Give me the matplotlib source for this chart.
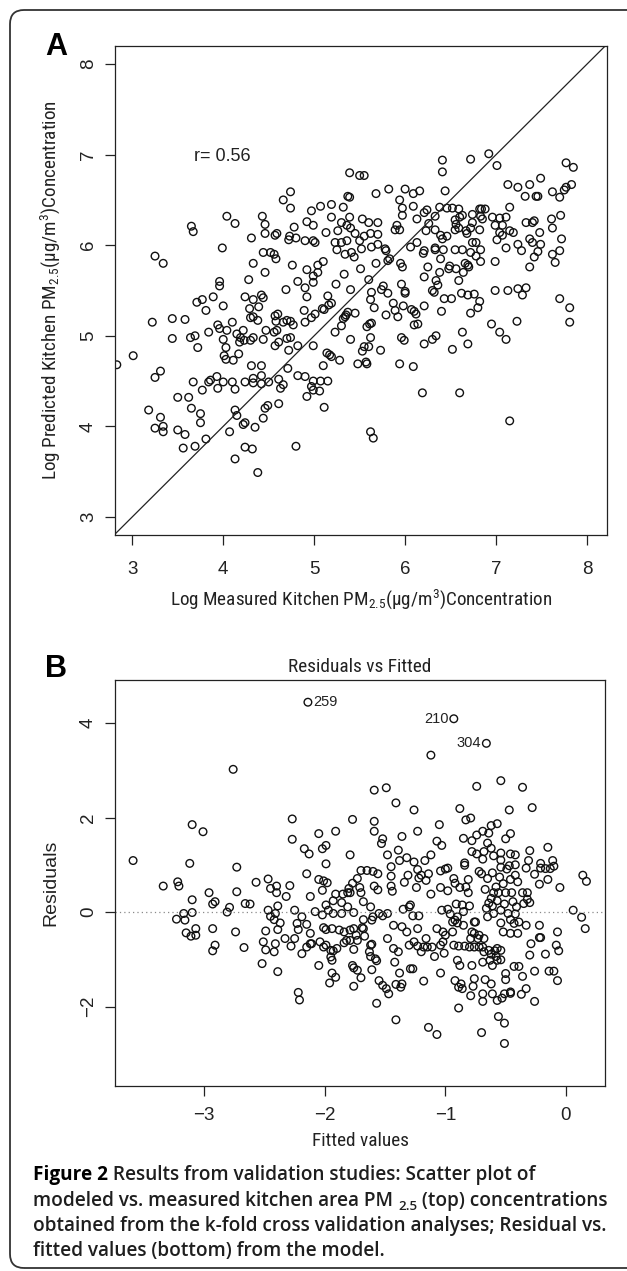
import matplotlib
matplotlib.use('Agg')
import matplotlib.pyplot as plt
from matplotlib import font_manager
from matplotlib.patches import FancyBboxPatch

# ---------------- data: panel A (measured vs predicted, log scale) ----------------
a_measured = [
 3.22,3.25,3.34,3.44,3.44,3.58,3.64,3.69,3.72,3.65,3.67,3.71,3.77,3.81,3.84,3.89,3.96,3.96,3.99,4.00,
 3.94,3.96,4.04,4.13,4.00,4.03,4.04,4.10,4.15,4.19,4.18,4.22,4.23,4.28,4.24,4.29,4.33,4.31,4.33,4.30,
 4.33,4.33,4.30,4.39,4.38,4.42,4.44,4.43,4.46,4.46,4.46,4.44,4.44,4.47,4.52,4.56,4.57,4.59,4.58,4.57,
 4.60,4.58,4.57,4.61,4.56,4.59,4.66,4.69,4.72,4.73,4.74,4.74,4.76,4.78,4.70,4.74,4.72,4.66,4.70,4.74,
 4.77,4.82,4.82,4.80,
 2.83,3.01,3.25,3.31,3.18,3.31,3.25,3.34,3.34,3.50,3.50,3.58,3.56,3.62,3.65,3.69,3.67,3.77,3.75,3.75,
 3.81,3.84,3.86,3.93,3.94,4.00,4.01,4.03,4.10,4.13,4.13,4.15,4.11,4.17,4.07,4.13,4.22,4.24,4.24,4.32,
 4.24,4.31,4.33,4.33,4.35,4.38,4.42,4.42,4.42,4.44,4.46,4.49,4.50,4.61,4.61,4.63,4.66,4.71,4.80,4.82,
 5.39,5.50,5.55,5.37,5.39,5.68,5.82,5.94,6.00,6.09,6.16,5.97,5.97,6.09,6.41,6.41,6.44,6.72,6.92,7.01,
 7.13,7.24,7.37,7.49,7.44,7.46,7.32,7.62,7.70,7.75,7.77,7.77,7.85,7.83,7.15,6.82,6.88,
 4.92,4.97,5.07,5.19,5.32,4.99,5.19,5.30,5.39,5.36,5.53,5.60,5.70,5.13,5.26,5.40,4.90,4.99,5.01,
 5.23,5.30,5.36,5.45,5.50,5.55,5.62,5.70,5.25,5.34,5.41,5.44,5.52,5.63,5.70,5.78,5.79,5.91,5.89,5.94,
 6.13,6.21,6.24,6.33,6.38,6.23,6.26,6.33,6.46,6.52,6.59,6.55,6.60,6.63,6.56,6.74,6.84,6.83,6.85,6.96,
 7.04,7.11,6.74,6.72,6.82,6.99,7.07,6.39,6.41,6.46,6.55,6.59,6.67,6.68,6.33,6.42,6.55,6.63,6.72,6.83,
 6.74,6.78,7.15,7.19,7.01,7.04,7.07,7.11,7.24,7.28,7.33,7.40,7.42,7.37,7.40,7.48,7.49,7.46,7.42,7.37,
 7.61,7.62,7.71,7.72,7.70,7.62,7.65,6.99,6.83,6.78,6.66,6.69,6.70,6.64,6.56,6.39,6.49,6.48,6.38,6.34,
 6.36,6.30,6.32,6.43,6.51,6.59,6.62,6.69,6.76,6.82,6.80,6.72,6.40,6.99,7.13,7.24,7.29,7.33,6.95,7.04,
 7.11,7.23,6.63,6.69,6.52,7.70,7.81,7.81,6.21,6.25,6.21,6.06,6.13,6.20,6.21,6.33,5.95,5.97,5.96,6.00,
 6.00,5.98,6.07,6.10,6.12,6.10,6.14,5.96,5.99,6.21,6.30,6.34,5.94,6.09,5.68,5.81,5.83,5.76,5.74,5.81,
 5.87,5.89,5.92,5.79,5.51,5.60,5.63,5.62,5.66,5.61,5.58,5.63,5.62,5.55,5.60,5.53,5.73,5.58,5.48,5.57,
 5.33,5.24,5.40,5.45,5.37,5.32,5.34,5.30,5.23,5.40,5.35,5.15,5.19,5.09,5.11,5.16,5.01,4.97,4.90,4.89,
 4.92,4.99,5.04,5.10,5.04,4.99,4.92,4.90,4.99,5.14,5.19,5.28,5.10,5.17,4.90,4.99,5.07,5.15,4.97,4.99,
 5.06,4.92,5.62,5.65,6.19,6.60,7.15,5.11,
]
a_predicted = [
 5.15,5.88,5.80,5.19,4.97,5.18,4.98,5.00,4.87,6.21,6.15,5.37,5.40,5.28,5.04,5.43,5.60,5.55,5.97,5.33,
 5.12,5.08,6.32,6.24,4.96,4.87,5.06,5.15,5.02,4.98,4.93,5.06,4.95,5.62,5.43,5.30,5.40,6.08,5.80,5.20,
 5.21,4.98,4.95,5.32,5.17,5.45,5.42,6.32,6.23,6.13,5.70,5.92,4.96,5.06,5.92,5.90,6.11,6.13,5.85,5.22,
 5.24,5.16,4.89,4.93,5.04,5.06,6.50,5.51,6.06,6.10,6.41,6.59,5.78,6.20,4.97,4.98,4.84,5.15,5.17,5.16,
 5.12,5.60,4.89,6.08,
 4.68,4.78,4.54,4.61,4.18,4.10,3.98,4.00,3.94,4.32,3.96,3.91,3.76,4.32,4.20,3.78,4.49,4.40,4.14,4.04,
 3.86,4.49,4.51,4.55,4.42,4.49,4.78,4.74,4.49,4.41,4.18,4.12,4.73,4.80,3.94,3.64,4.02,4.04,3.77,3.75,
 4.49,4.67,4.53,4.48,3.99,3.49,4.56,4.67,4.47,4.09,4.20,4.23,4.49,4.25,4.52,4.42,4.46,4.64,3.78,4.56,
 6.80,6.77,6.77,6.54,6.53,6.57,6.62,6.50,6.62,6.57,6.60,6.41,6.33,6.43,6.94,6.81,6.60,6.95,7.01,6.88,
 6.67,6.64,6.67,6.74,6.54,6.54,6.54,6.59,6.53,6.61,6.64,6.91,6.86,6.67,6.42,6.40,6.40,
 6.26,6.38,6.43,6.45,6.42,6.22,6.31,6.25,6.31,6.22,6.29,6.25,6.25,6.14,6.16,6.19,6.05,6.05,6.03,
 6.03,6.03,6.05,6.13,6.05,6.10,6.13,6.12,5.95,5.90,5.92,5.87,5.96,5.98,6.01,5.96,5.94,6.22,6.17,6.17,
 6.29,6.36,6.39,6.32,6.42,6.16,6.24,6.17,6.41,6.41,6.40,6.28,6.31,6.33,6.23,6.34,6.40,6.32,6.29,6.31,
 6.30,6.31,6.25,6.19,6.17,6.22,6.22,6.11,6.07,6.10,6.17,6.19,6.16,6.13,5.97,5.95,5.95,5.95,5.92,5.95,
 6.03,6.03,6.16,6.14,6.06,6.14,6.11,5.97,6.01,5.94,6.25,6.25,6.27,6.07,6.03,6.14,6.01,5.93,5.87,5.76,
 6.29,6.19,6.33,6.07,5.94,5.90,5.81,5.82,5.82,5.88,5.80,5.78,5.76,5.70,5.74,5.85,5.77,5.74,5.70,5.61,
 5.56,5.50,5.48,5.41,5.41,5.61,5.47,5.45,5.46,5.38,5.31,5.25,5.27,5.50,5.50,5.52,5.45,5.53,5.13,5.04,
 4.96,5.16,5.04,4.91,4.85,5.41,5.31,5.15,5.65,5.76,5.33,5.98,6.03,5.91,5.94,5.95,5.80,5.76,5.57,5.47,
 5.49,5.33,5.29,5.27,5.24,5.12,5.13,4.98,4.95,4.91,4.96,5.00,4.69,4.66,5.80,5.83,5.85,5.55,5.51,5.47,
 5.36,5.28,5.21,5.23,5.74,5.62,5.48,5.40,5.31,5.13,5.10,5.14,4.98,4.88,4.88,4.83,4.84,4.69,4.69,4.71,
 5.68,5.57,5.51,5.25,5.26,5.19,5.21,5.11,5.04,4.96,5.23,5.44,5.36,5.30,5.29,5.34,5.24,5.20,5.15,5.28,
 5.43,5.59,5.70,5.82,5.78,5.66,5.73,5.53,4.89,4.81,4.77,4.73,4.67,4.79,4.55,4.50,4.50,4.50,4.44,4.40,
 4.39,4.33,3.94,3.87,4.37,4.37,4.06,4.21,
]
r_text = "r= 0.56"
a_xticks = [3, 4, 5, 6, 7, 8]
a_yticks = [3, 4, 5, 6, 7, 8]

# ---------------- data: panel B (residuals vs fitted) ----------------
b_fitted = [
 -2.14,-2.76,-3.59,-3.10,-3.01,-3.12,-3.34,-3.22,-3.21,-2.96,-2.73,-2.73,-2.57,-2.47,-2.45,-2.40,-2.40,
 -2.32,-2.29,-2.27,-2.27,-2.17,-2.13,-2.15,-2.05,-2.02,-1.99,-1.99,-2.05,-2.01,-1.98,-2.02,-2.12,
 -3.10,-3.17,-3.23,-3.16,-3.10,-3.15,-3.11,-3.07,-3.07,-2.93,-2.93,-2.91,-2.81,-2.79,-2.74,-2.67,-2.93,
 -2.91,-2.66,-2.62,-2.47,-2.45,-2.42,-2.41,-2.39,-2.49,-2.39,-2.37,-2.51,-2.49,-2.41,-2.42,-2.33,-2.52,
 -2.39,-2.25,-2.23,-2.22,-2.19,-2.15,-2.25,-2.28,-2.19,-2.15,-2.12,-2.22,-2.21,
 -0.93,-0.66,-1.12,-1.59,-1.49,-1.41,-1.26,-1.77,-1.59,-1.59,-1.52,-1.53,-1.91,-1.79,-1.48,-1.39,-1.38,
 -1.32,-1.26,-1.36,-1.23,-1.05,-1.07,-1.03,-1.12,-1.17,-1.45,-0.88,-0.83,-0.79,-0.85,-0.78,-0.74,-0.69,
 -0.64,-0.62,-0.57,-0.74,-0.54,-0.36,-0.28,-0.47,-0.46,-0.50,-0.78,-0.74,-0.68,-0.65,-0.62,-0.54,-0.46,
 -0.42,-0.69,-0.60,-0.54,-0.47,-0.42,-0.54,-0.30,-0.15,-0.31,-0.21,-0.17,-0.11,-0.10,-0.21,-0.13,-0.33,
 -0.26,0.14,0.17,-0.05,-0.22,-0.15,-1.70,-1.65,-1.60,-1.56,-1.73,-1.77,-1.80,-1.81,-1.71,-1.59,-1.56,
 -1.45,-1.45,-1.34,-1.31,-1.44,-1.23,-1.20,-1.22,-1.16,-1.14,-1.24,-1.12,-1.04,-1.00,-0.98,-1.04,-0.98,
 -0.93,-0.92,-0.88,-0.81,-0.83,-0.81,-0.84,-0.84,-0.72,-0.70,-0.65,-0.61,-0.55,-0.49,-0.46,-0.42,-0.40,
 -0.52,-0.58,-0.67,-0.60,-0.56,-0.50,-0.45,-0.36,-0.32,-1.91,-1.85,-1.79,-1.70,
 -2.08,-2.02,-1.99,-1.93,-1.86,-1.81,-1.76,-1.86,-1.93,-1.97,-1.68,-1.62,-1.60,-1.55,-1.52,-1.48,-1.61,
 -1.68,-1.69,-1.76,-1.79,-1.84,-1.88,-1.94,-1.99,-2.01,-2.12,-2.11,-2.04,-2.01,-1.99,-1.95,-1.93,-1.90,
 -1.95,-1.94,-2.05,-1.94,-1.91,-1.96,-1.82,-1.79,-1.76,-1.73,-1.84,-1.74,-1.77,-1.76,-1.73,-1.70,-1.76,
 -1.68,-1.67,-1.62,-1.61,-1.63,-1.62,-1.58,-1.57,-1.61,-1.55,-1.52,-1.49,-1.47,-1.57,-1.48,-1.43,-1.39,
 -1.42,-1.38,-1.41,-1.37,-1.36,-1.41,-1.43,-1.36,-1.32,-1.35,-1.30,-1.29,-1.27,-1.30,-1.26,-1.29,-1.27,
 -1.23,-1.20,-1.18,-1.23,-1.16,-1.15,-1.22,-1.18,-1.14,-1.07,-1.11,-1.09,-1.04,-1.01,-1.02,-1.03,-0.98,
 -0.96,-1.07,-1.02,-1.00,-0.94,-1.04,-0.94,-0.92,-0.90,-0.85,-0.93,-0.89,-0.84,-0.80,-0.90,-0.88,-0.92,
 -0.87,-0.89,-0.86,-0.89,-0.79,-0.77,-0.76,-0.78,-0.79,-0.76,-0.73,-0.76,-0.72,-0.69,-0.68,-0.64,-0.62,
 -0.59,-0.57,-0.54,-0.69,-0.63,-0.61,-0.58,-0.57,-0.54,-0.67,-0.62,-0.69,-0.69,-0.61,-0.57,-0.53,-0.51,
 -0.50,-0.50,-0.46,-0.46,-0.43,-0.39,-0.36,-0.37,-0.33,-0.29,-0.26,-0.26,-0.30,-0.22,-0.56,-0.51,-0.70,
 -0.51,-0.66,-0.64,-0.61,-0.60,-0.65,-0.62,-0.57,-0.54,-0.51,-0.48,-0.46,-0.44,-0.42,-0.39,-0.41,-0.35,
 -0.32,-0.30,-0.54,-0.52,-0.46,-0.40,-0.33,-0.43,-0.91,-0.86,-0.80,-0.75,-0.78,-0.72,-0.68,-0.76,-0.90,
 -0.85,-0.22,-0.21,-0.17,-0.14,-0.10,-0.07,-0.08,-0.06,-0.07,0.06,0.13,0.16,
]
b_residuals = [
 4.44,3.02,1.09,1.85,1.70,1.03,0.55,0.64,0.55,0.41,0.95,0.43,0.63,0.70,0.50,0.55,0.41,
 0.33,0.56,1.97,1.54,1.34,1.23,0.81,1.66,1.34,1.41,1.02,0.69,0.66,0.62,0.46,0.33,
 0.26,-0.03,-0.15,-0.17,-0.01,-0.44,-0.51,-0.49,-0.35,-0.35,-0.82,-0.70,0.00,0.10,-0.42,-0.75,0.17,
 0.22,0.18,0.17,0.04,-0.09,-0.16,-0.03,0.13,-0.40,-0.37,-0.23,-0.63,-0.80,-0.67,-0.84,-0.56,-1.09,
 -1.26,0.04,-0.24,-0.37,-0.10,-0.26,-0.56,-0.72,-0.88,-0.74,-0.67,-1.70,-1.86,
 4.09,3.57,3.32,2.58,2.63,2.31,2.16,1.96,1.92,1.71,1.55,1.45,1.71,1.21,1.21,1.31,1.09,
 1.15,1.06,1.60,1.71,1.85,1.50,1.41,1.21,1.09,0.96,2.19,1.95,1.99,1.56,1.51,1.63,1.71,
 1.67,1.83,1.87,2.66,2.78,2.64,2.21,2.16,1.66,1.55,1.28,1.23,1.28,1.46,1.35,1.25,1.23,
 1.21,1.12,1.19,1.10,0.98,1.00,0.95,1.30,1.37,1.09,1.03,0.92,1.09,0.97,0.93,0.92,0.93,
 0.80,0.78,0.65,0.52,0.59,0.69,0.88,0.88,0.86,0.81,0.71,0.61,0.50,0.41,0.52,0.55,0.47,
 0.76,0.55,0.63,0.78,0.44,0.90,0.78,0.72,0.67,0.81,0.52,0.38,0.87,0.91,0.93,0.52,0.45,
 0.71,0.61,0.52,0.69,0.53,0.41,0.99,1.04,0.86,0.81,0.71,0.83,0.74,0.91,0.69,0.78,0.64,
 0.60,0.53,0.48,0.41,0.41,0.41,0.41,0.41,0.41,0.38,0.38,0.41,0.41,
 0.01,-0.06,0.15,0.24,0.20,0.11,-0.01,-0.03,-0.03,0.04,0.22,0.11,-0.10,-0.03,-0.08,-0.03,-0.17,
 -0.16,-0.33,-0.35,-0.38,-0.42,-0.38,-0.35,-0.37,-0.33,-0.45,-0.67,-0.63,-0.74,-0.70,-0.81,-0.82,-0.77,
 -0.95,-1.02,-1.13,-1.29,-1.38,-1.50,-0.60,-0.60,-0.79,-0.60,-0.65,-0.49,-1.13,-1.18,-1.23,-1.39,-1.57,
 -0.35,-0.51,-0.70,-0.68,-0.84,-0.94,-0.99,-1.03,-1.22,-1.45,-1.55,-1.62,-1.73,-1.93,-0.56,-0.77,-0.84,
 -1.06,-1.29,-1.53,-1.59,-1.52,-2.28,-0.28,-0.31,-0.42,0.06,0.11,0.15,-0.08,-0.70,-0.63,-1.20,-1.20,
 -0.72,-0.84,-0.74,-0.35,-0.56,-0.74,-0.08,-1.46,-2.44,-2.59,-0.74,-0.94,-0.70,-0.87,-0.63,0.04,0.06,
 -0.04,-0.35,-0.42,-0.49,-0.42,-1.29,-0.21,-0.17,-0.23,-0.28,-0.70,-0.72,-0.72,-0.74,-1.02,-1.13,-1.45,
 -1.52,-1.59,-1.62,-2.03,-1.77,-1.57,-1.41,-1.13,-0.56,-0.45,-0.56,-0.21,-0.74,-0.74,-0.84,-0.81,-0.89,
 -0.82,-0.77,-0.81,-1.06,-1.02,-1.13,-0.94,-1.02,-1.01,-1.43,-1.52,-1.73,-1.89,-1.73,-1.87,-1.82,-1.73,
 -1.43,-1.30,-1.69,-1.72,-1.15,-1.15,-1.36,-1.74,-1.62,-0.67,-1.25,-1.89,-0.91,-0.54,-2.21,-2.35,-2.55,
 -2.78,0.08,0.19,0.13,-0.03,-0.10,0.29,0.24,0.04,0.17,-0.03,-0.16,0.22,-0.04,-0.21,0.11,0.18,
 0.27,0.20,-0.23,-0.42,-0.45,-0.45,-0.28,-0.24,0.17,0.15,0.13,-0.21,-0.42,-0.49,-0.56,-0.74,-0.10,
 0.01,-0.28,-0.54,-0.89,-1.25,-1.25,-1.45,-0.70,-0.82,-0.42,0.04,-0.11,-0.35,
]
b_labels = ["259", "210", "304"]
b_label_idx = [0, 80, 81]
b_label_side = ["right", "left", "left"]
b_xticks = [-3, -2, -1, 0]
b_yticks = [-2, 0, 2, 4]

# ---------------- style / fonts ----------------
W, H, DPI = 627, 1271, 100
names = {f.name for f in font_manager.fontManager.ttflist}
SANS = 'Liberation Sans' if 'Liberation Sans' in names else 'DejaVu Sans'
NARROW = SANS
for cand in ['Liberation Sans Narrow', 'Arial Narrow', 'Roboto Condensed',
             'Open Sans Condensed', 'Noto Sans Condensed']:
    if cand in names:
        NARROW = cand
        break
CAP = 'Open Sans' if 'Open Sans' in names else SANS

plt.rcParams['font.family'] = [SANS, 'DejaVu Sans']
plt.rcParams['mathtext.fontset'] = 'custom'
plt.rcParams['mathtext.rm'] = NARROW
plt.rcParams['mathtext.it'] = NARROW
plt.rcParams['mathtext.default'] = 'rm'

fig = plt.figure(figsize=(W / DPI, H / DPI), dpi=DPI)
fig.patch.set_facecolor('white')
renderer = fig.canvas.get_renderer()

INK = '#222222'


def fit_size(text, family, target_px, base=14, **kw):
    t = fig.text(0, 0, text, family=family, fontsize=base, **kw)
    w = t.get_window_extent(renderer).width
    t.remove()
    return base * target_px / w


def px_axes(left, top, right, bottom):
    return fig.add_axes([left / W, 1 - bottom / H, (right - left) / W, (bottom - top) / H])


def style_axes(ax, xpad):
    for s in ax.spines.values():
        s.set_linewidth(0.9)
        s.set_color(INK)
    ax.tick_params(direction='out', length=7, width=0.9, color=INK,
                   labelsize=13.5, labelcolor=INK)
    ax.tick_params(axis='x', pad=xpad)
    ax.tick_params(axis='y', pad=6, labelrotation=90)
    for lab in ax.get_yticklabels():
        lab.set_va('center')


# ---------------- panel A ----------------
xlabA = r"Log Measured Kitchen PM$_{2.5}$(µg/m$^{3}$)Concentration"
ylabA = r"Log Predicted Kitchen PM$_{2.5}$(µg/m$^{3}$)Concentration"
fsA = min(15.5, fit_size(xlabA, NARROW, 383))

axA = px_axes(115, 46, 607, 535)
axA.scatter(a_measured, a_predicted, s=30, facecolors='none', edgecolors='#111111', linewidths=1.0)
axA.axline((3, 3), slope=1, color=INK, lw=0.9)
axA.set_xlim(2.81, 8.22)
axA.set_ylim(2.80, 8.20)
axA.set_xticks(a_xticks)
axA.set_yticks(a_yticks)
style_axes(axA, xpad=11.5)
axA.text(3.99, 6.98, r_text, ha='center', va='center', fontsize=13, color=INK)
axA.set_xlabel(xlabA, family=NARROW, fontsize=fsA, color=INK, labelpad=7)
axA.set_ylabel(ylabA, family=NARROW, fontsize=fsA, color=INK, labelpad=13)
fig.text(56 / W, 1 - 47 / H, "A", fontsize=22, fontweight='bold', family=SANS,
         ha='center', va='center', color='black')

# ---------------- panel B ----------------
axB = px_axes(115, 680, 605, 1086)
axB.axhline(0, color='#8a8a8a', lw=0.9, ls=(0, (1, 2.5)))
axB.scatter(b_fitted, b_residuals, s=30, facecolors='none', edgecolors='#111111', linewidths=1.0)
axB.set_xlim(-3.74, 0.324)
axB.set_ylim(-3.68, 4.91)
axB.set_xticks(b_xticks)
axB.set_yticks(b_yticks)
style_axes(axB, xpad=8)
for lab, i, side in zip(b_labels, b_label_idx, b_label_side):
    xv, yv = b_fitted[i], b_residuals[i]
    off = 3.8 if side == "right" else -3.8
    axB.annotate(lab, (xv, yv), xytext=(off, 0), textcoords='offset points',
                 ha='left' if side == "right" else 'right', va='center',
                 fontsize=10.5, color=INK)
fsT = min(15, fit_size("Residuals vs Fitted", NARROW, 144))
axB.set_title("Residuals vs Fitted", family=NARROW, fontsize=fsT, color=INK, pad=6)
axB.set_xlabel("Fitted values", family=NARROW, fontsize=fsT, color=INK, labelpad=6)
axB.set_ylabel("Residuals", family=SANS, fontsize=14, color=INK, labelpad=15)
fig.text(56 / W, 1 - 669 / H, "B", fontsize=22, fontweight='bold', family=SANS,
         ha='center', va='center', color='black')

# ---------------- frame ----------------
frame = FancyBboxPatch((10, 3), 640, 1258, boxstyle="round,pad=0,rounding_size=14",
                       transform=None, fill=False, edgecolor='#333333', lw=1.3)
fig.add_artist(frame)

# ---------------- caption ----------------
cap_fs = fit_size("obtained from the k-fold cross validation analyses; Residual vs.",
                  CAP, 577, base=12, fontweight='semibold')
sub_fs = cap_fs * 0.7


def runs(x0, ybase, parts):
    cur = x0
    for txt, fs, wt, dy, col in parts:
        t = fig.text(cur / W, 1 - (ybase + dy) / H, txt, family=CAP, fontsize=fs,
                     fontweight=wt, color=col, ha='left', va='baseline')
        cur += t.get_window_extent(renderer).width


CAPCOL = '#1e1e1e'
lines = [
    [("Figure 2", cap_fs, 'bold', 0, 'black'),
     (" Results from validation studies: Scatter plot of", cap_fs, 'semibold', 0, CAPCOL)],
    [("modeled vs. measured kitchen area PM ", cap_fs, 'semibold', 0, CAPCOL),
     ("2.5", sub_fs, 'semibold', 4, CAPCOL),
     (" (top) concentrations", cap_fs, 'semibold', 0, CAPCOL)],
    [("obtained from the k-fold cross validation analyses; Residual vs.", cap_fs, 'semibold', 0, CAPCOL)],
    [("fitted values (bottom) from the model.", cap_fs, 'semibold', 0, CAPCOL)],
]
baselines = [1180, 1206, 1231, 1256]
for parts, yb in zip(lines, baselines):
    runs(33, yb, parts)

fig.savefig('out.png', dpi=DPI, facecolor='white')
